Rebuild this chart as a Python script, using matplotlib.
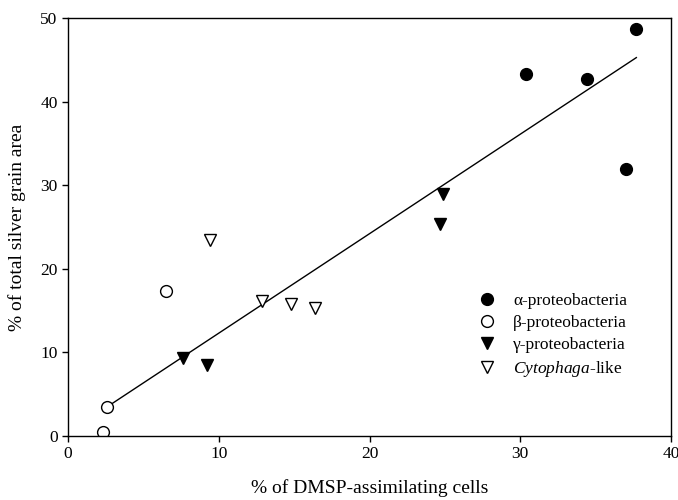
import numpy as np
import matplotlib.pyplot as plt

plt.rcParams['font.family'] = ['Liberation Serif', 'DejaVu Serif']
plt.rcParams['mathtext.fontset'] = 'custom'
plt.rcParams['mathtext.it'] = 'Liberation Serif:italic'

# data (x: % of DMSP-assimilating cells, y: % of silver grain area)
alpha_x = [30.4, 34.4, 37.7, 37.0]
alpha_y = [43.3, 42.7, 48.7, 31.9]
beta_x = [2.3, 2.6, 6.5]
beta_y = [0.5, 3.5, 17.3]
gamma_x = [7.6, 9.2, 24.7, 24.9]
gamma_y = [9.3, 8.5, 25.4, 28.9]
cyto_x = [9.4, 12.9, 14.8, 16.4]
cyto_y = [23.4, 16.2, 15.8, 15.3]

# regression line
fit_slope = 1.19
fit_intercept = 0.4
fit_x = [2.6, 37.7]

fig = plt.figure(figsize=(6.78, 5.00), dpi=100)
ax = fig.add_axes([0.1003, 0.128, 0.8894, 0.836])

ax.plot(alpha_x, alpha_y, 'o', ms=8.5, mfc='black', mec='black', label='α-proteobacteria')
ax.plot(beta_x, beta_y, 'o', ms=8.5, mfc='white', mec='black', mew=1.0, label='β-proteobacteria')
ax.plot(gamma_x, gamma_y, 'v', ms=8.5, mfc='black', mec='black', label='γ-proteobacteria')
ax.plot(cyto_x, cyto_y, 'v', ms=8.5, mfc='white', mec='black', mew=1.0,
        label=r'$\mathit{Cytophaga}$-like')

fx = np.array(fit_x)
ax.plot(fx, fit_slope * fx + fit_intercept, color='black', lw=1.0, zorder=1)

ax.set_xlim(0, 40)
ax.set_ylim(0, 50)
ax.set_xticks([0, 10, 20, 30, 40])
ax.set_yticks([0, 10, 20, 30, 40, 50])
ax.tick_params(direction='out', length=4, width=1, labelsize=12.5)
for s in ax.spines.values():
    s.set_linewidth(1.0)

ax.set_xlabel('% of DMSP-assimilating cells', fontsize=14, labelpad=12)
ax.set_ylabel('% of total silver grain area', fontsize=14, labelpad=10)

ax.legend(loc='upper left', bbox_to_anchor=(0.655, 0.358), frameon=False,
          fontsize=12.5, handletextpad=0.5, labelspacing=0.33, borderaxespad=0)

fig.savefig('out.png', dpi=100)
